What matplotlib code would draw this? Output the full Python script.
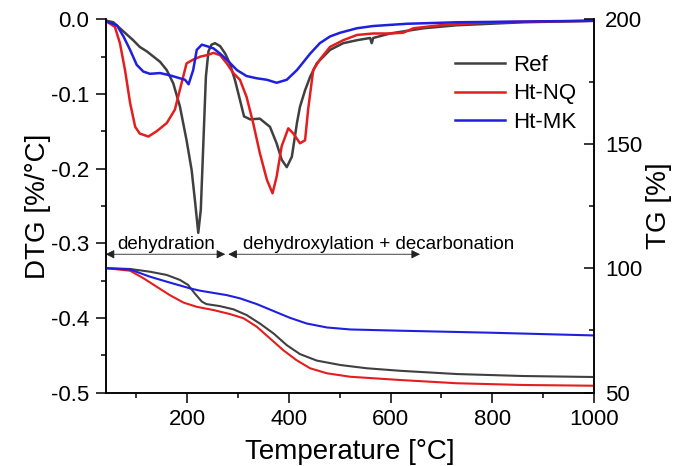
import matplotlib
matplotlib.use('Agg')
import matplotlib.pyplot as plt
from matplotlib.ticker import MultipleLocator

plt.rcParams['font.family'] = ['Liberation Sans', 'DejaVu Sans']

# ---------------- DTG data [%/°C] ----------------
ref_dtg_T = [42, 55, 68, 81, 94, 107, 121, 134, 147, 160, 173, 186, 199, 209, 216, 222,
             227, 232, 237, 242, 248, 255, 265, 275, 284, 294, 304, 312, 324, 343, 363,
             376, 386, 396, 406, 416, 422, 432, 442, 455, 481, 507, 534, 560, 563, 566,
             599, 665, 730, 861, 1000]
ref_dtg = [-0.002, -0.004, -0.012, -0.020, -0.028, -0.037, -0.043, -0.050, -0.057, -0.068,
           -0.086, -0.117, -0.162, -0.202, -0.246, -0.286, -0.255, -0.166, -0.077, -0.043,
           -0.034, -0.032, -0.036, -0.046, -0.059, -0.081, -0.108, -0.130, -0.134, -0.133,
           -0.144, -0.166, -0.188, -0.198, -0.184, -0.139, -0.117, -0.095, -0.077, -0.059,
           -0.041, -0.032, -0.028, -0.025, -0.032, -0.025, -0.019, -0.012, -0.008, -0.004,
           -0.002]

nq_dtg_T = [42, 58, 68, 78, 88, 98, 107, 124, 140, 160, 176, 189, 199, 212, 226, 239, 252,
            265, 278, 291, 304, 317, 330, 343, 357, 368, 376, 386, 399, 409, 422, 432, 438,
            448, 461, 481, 507, 534, 566, 599, 625, 645, 697, 796, 1000]
nq_dtg = [-0.003, -0.010, -0.032, -0.068, -0.112, -0.144, -0.153, -0.157, -0.150, -0.139,
          -0.121, -0.086, -0.059, -0.054, -0.050, -0.048, -0.045, -0.048, -0.059, -0.072,
          -0.081, -0.104, -0.139, -0.179, -0.215, -0.233, -0.211, -0.170, -0.146, -0.153,
          -0.166, -0.162, -0.121, -0.068, -0.054, -0.037, -0.028, -0.021, -0.019, -0.019,
          -0.018, -0.012, -0.008, -0.004, -0.002]

mk_dtg_T = [42, 62, 75, 88, 101, 114, 127, 147, 166, 186, 196, 203, 212, 219, 229, 239,
            252, 265, 278, 298, 317, 337, 357, 376, 396, 416, 422, 442, 461, 481, 501, 534,
            566, 632, 730, 861, 1000]
mk_dtg = [-0.003, -0.008, -0.023, -0.041, -0.061, -0.070, -0.073, -0.072, -0.075, -0.079,
          -0.081, -0.087, -0.068, -0.041, -0.034, -0.036, -0.039, -0.046, -0.054, -0.068,
          -0.076, -0.079, -0.081, -0.085, -0.081, -0.068, -0.063, -0.046, -0.032, -0.023,
          -0.018, -0.012, -0.009, -0.006, -0.004, -0.003, -0.002]

# ---------------- TG data [%] ----------------
ref_tg_T = [42, 88, 127, 160, 186, 202, 215, 229, 238, 264, 291, 317, 343, 370, 396, 422,
            455, 502, 554, 619, 730, 861, 1000]
ref_tg = [100.0, 99.7, 98.6, 97.3, 95.3, 93.3, 89.9, 86.6, 85.6, 84.8, 83.5, 81.2, 77.8,
          73.8, 69.1, 65.5, 62.9, 61.1, 59.8, 58.8, 57.5, 56.7, 56.3]

nq_tg_T = [42, 88, 114, 140, 166, 193, 219, 252, 284, 311, 337, 363, 389, 415, 442, 475,
           521, 619, 730, 861, 1000]
nq_tg = [100.0, 99.0, 96.0, 92.6, 89.2, 86.2, 84.5, 83.2, 81.6, 79.9, 76.5, 71.8, 67.1,
         63.1, 59.8, 57.8, 56.4, 55.1, 53.8, 53.1, 52.8]

mk_tg_T = [42, 88, 127, 160, 206, 225, 278, 304, 337, 370, 402, 435, 475, 521, 619, 796,
           1000]
mk_tg = [100.0, 99.5, 96.6, 94.6, 91.9, 91.0, 89.2, 87.9, 85.6, 82.8, 80.1, 77.8, 76.2,
         75.4, 74.9, 74.1, 73.0]

labels = ['Ref', 'Ht-NQ', 'Ht-MK']
colors = ['#404040', '#e41e1e', '#1f1fe0']

fig = plt.figure(figsize=(6.81, 4.66), dpi=100)
ax = fig.add_axes([0.1552, 0.1573, 0.7170, 0.8013])
ax2 = ax.twinx()

for T, d, c, lab in zip([ref_dtg_T, nq_dtg_T, mk_dtg_T], [ref_dtg, nq_dtg, mk_dtg], colors, labels):
    ax.plot(T, d, color=c, lw=1.8, label=lab)
for T, g, c in zip([ref_tg_T, nq_tg_T, mk_tg_T], [ref_tg, nq_tg, mk_tg], colors):
    ax2.plot(T, g, color=c, lw=1.5)

ax.set_xlim(40, 1000)
ax.set_ylim(-0.5, 0.0)
ax2.set_ylim(50, 200)

ax.xaxis.set_major_locator(MultipleLocator(200))
ax.xaxis.set_minor_locator(MultipleLocator(100))
ax.yaxis.set_major_locator(MultipleLocator(0.1))
ax.yaxis.set_minor_locator(MultipleLocator(0.05))
ax2.yaxis.set_major_locator(MultipleLocator(50))
ax2.yaxis.set_minor_locator(MultipleLocator(25))
ax.yaxis.set_major_formatter(plt.FuncFormatter(lambda v, p: f'{v:.1f}'.replace('-0.0', '0.0')))

for a in (ax, ax2):
    a.spines['top'].set_visible(False)
    for s in a.spines.values():
        s.set_linewidth(1.1)

ax.tick_params(axis='both', which='major', direction='out', length=7, width=1.1,
               labelsize=16, pad=5)
ax.tick_params(axis='both', which='minor', direction='out', length=3.5, width=1.1)
ax2.tick_params(axis='y', which='major', direction='in', length=7, width=1.1,
                labelsize=16, pad=8)
ax2.tick_params(axis='y', which='minor', direction='in', length=3.5, width=1.1)

ax.set_xlabel('Temperature [°C]', fontsize=20, labelpad=6)
ax.set_ylabel('DTG [%/°C]', fontsize=20, labelpad=0)
ax2.set_ylabel('TG [%]', fontsize=20, labelpad=3)

# annotations
y_arr = -0.3146
ax.annotate('', xy=(40, y_arr), xytext=(275, y_arr),
            arrowprops=dict(arrowstyle='<|-|>', color='#222222', lw=0.6,
                            mutation_scale=13, shrinkA=0, shrinkB=0))
ax.annotate('', xy=(281, y_arr), xytext=(658, y_arr),
            arrowprops=dict(arrowstyle='<|-|>', color='#222222', lw=0.6,
                            mutation_scale=13, shrinkA=0, shrinkB=0))
ax.text(159, -0.301, 'dehydration', fontsize=13.5, ha='center', va='center')
ax.text(577, -0.301, 'dehydroxylation + decarbonation', fontsize=13.5, ha='center', va='center')

leg = ax.legend(loc='upper left', bbox_to_anchor=(0.7153, 0.905), frameon=False,
                fontsize=16, handlelength=2.27, handletextpad=0.35, labelspacing=0.34,
                borderpad=0, borderaxespad=0)

fig.savefig('out.png', dpi=100)
